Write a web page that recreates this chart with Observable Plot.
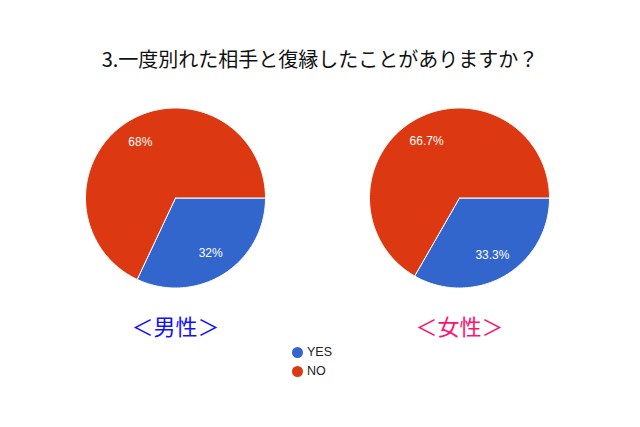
<!DOCTYPE html>
<html><head><meta charset="utf-8">
<script src="https://cdn.jsdelivr.net/npm/d3@7"></script>
<script src="https://cdn.jsdelivr.net/npm/@observablehq/plot@0.6"></script>
<style>
body{margin:0;background:#fff;font-family:"Liberation Sans",Arial,sans-serif;}
#wrap{width:640px;height:427px;overflow:hidden;background:#fff}
#title{height:72px;box-sizing:border-box;padding-top:47px;line-height:24px;text-align:center;font-family:"Noto Sans CJK JP",sans-serif;font-size:20px;color:#111}
#chart svg{display:block}
#legend{margin-left:292px;font-size:12.5px;color:#222}
.item{height:19px;line-height:19px;display:flex;align-items:center}
.sw{width:11px;height:11px;border-radius:50%;margin-right:4px;display:inline-block}
</style></head>
<body><div id="wrap">
<div id="title">3.一度別れた相手と復縁したことがありますか？</div>
<div id="chart"></div>
<div id="legend"></div>
</div>
<script>
const genders = ["男性", "女性"];
const genderColors = ["#1111ff", "#ff1170"];
const answers = ["YES", "NO"];
const answerColors = ["#3366cc", "#dc3912"];
const yesPct = [32, 33.3];
const noPct = [68, 66.7];

const polys = [];
const labels = [];
const pie = d3.pie().sort(null).value(d => d.v).startAngle(Math.PI / 2).endAngle(Math.PI / 2 + 2 * Math.PI);
genders.forEach((g, gi) => {
  const vals = [{a: answers[0], v: yesPct[gi]}, {a: answers[1], v: noPct[gi]}];
  pie(vals).forEach((s, si) => {
    const id = g + "-" + s.data.a;
    const pts = [{x: 0, y: 0}];
    const n = Math.max(2, Math.ceil((s.endAngle - s.startAngle) / (Math.PI / 180)));
    for (let k = 0; k <= n; k++) {
      const t = s.startAngle + (s.endAngle - s.startAngle) * k / n;
      pts.push({x: Math.sin(t), y: Math.cos(t)});
    }
    pts.push({x: 0, y: 0});
    pts.forEach(p => polys.push({...p, id, gender: g, answer: s.data.a}));
    const m = (s.startAngle + s.endAngle) / 2;
    labels.push({gender: g, x: 0.73 * Math.sin(m), y: 0.73 * Math.cos(m), text: `${s.data.v}%`});
  });
});

const H = 271;
const R = 90;
const cy = 125.5;
const fw = 284;
const chart = Plot.plot({
  width: 640,
  height: H,
  margin: 0,
  style: {background: "#fff"},
  fx: {domain: genders, range: [33, 601], padding: 0, axis: null},
  x: {domain: [-fw / 2 / R, fw / 2 / R], axis: null},
  y: {domain: [-(H - cy) / R, cy / R], axis: null},
  color: {domain: answers, range: answerColors},
  marks: [
    Plot.line(polys, {x: "x", y: "y", z: "id", fx: "gender", fill: "answer", stroke: "#fff", strokeWidth: 1, curve: "linear"}),
    Plot.text(labels, {x: "x", y: "y", fx: "gender", text: "text", fill: "#fff", fontSize: 12, fontFamily: "Liberation Sans, Arial, sans-serif"}),
    Plot.text(genders, {fx: d => d, x: () => 0, text: d => "＜" + d + "＞", frameAnchor: "bottom", dy: -16, lineAnchor: "middle",
      fill: d => genderColors[genders.indexOf(d)], fontSize: 22, fontFamily: "Noto Sans CJK JP, sans-serif"})
  ]
});
document.getElementById("chart").appendChild(chart);

const leg = document.getElementById("legend");
answers.forEach((a, i) => {
  const it = document.createElement("div");
  it.className = "item";
  it.innerHTML = `<span class="sw" style="background:${answerColors[i]}"></span><span>${a}</span>`;
  leg.appendChild(it);
});
</script>
</body></html>
